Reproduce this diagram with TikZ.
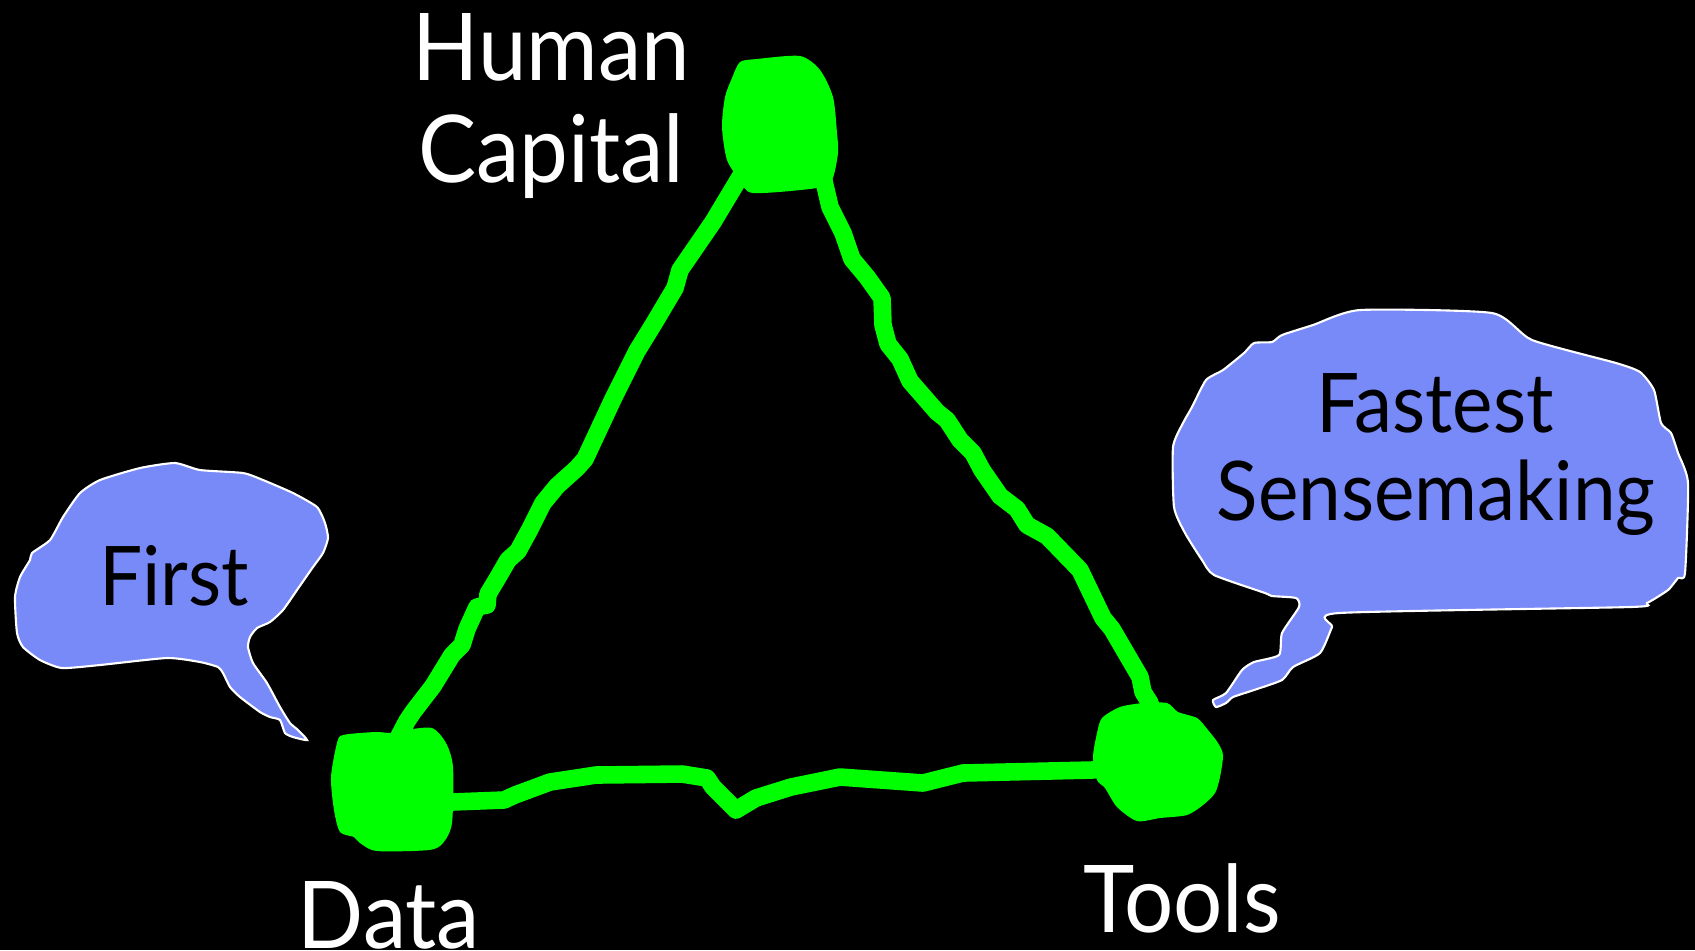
\documentclass[tikz,border=0pt]{standalone}
\usepackage{fontspec}
\setmainfont{Lato}[FakeStretch=0.93]
\definecolor{glow}{RGB}{0,255,0}
\definecolor{bubblefill}{RGB}{120,137,248}
\tikzset{
  edgeline/.style={draw=glow, line width=5pt, line join=round, line cap=round},
  blob/.style={fill=glow},
  bubble/.style={fill=bubblefill, draw=white, line width=0.6pt},
  hub/.style={inner sep=0pt, minimum size=0pt},
  biglabel/.style={text=white, anchor=base, inner sep=0pt, font=\fontsize{26.6pt}{30pt}\selectfont},
  bubbletext/.style={text=black, anchor=base, inner sep=0pt, font=\fontsize{23.4pt}{27pt}\selectfont}
}
\begin{document}
\begin{tikzpicture}[x=0.01cm, y=-0.01cm]
\fill[black] (0,0) rectangle (1695,950);
\useasboundingbox (0,0) rectangle (1695,950);

% hubs
\node[hub] (hc) at (780,124) {};
\node[hub] (data) at (392,790) {};
\node[hub] (tools) at (1160,762) {};

% connectors
\draw[edgeline] (hc.center) -- (745,172) -- (740,177) -- (713,222) -- (680,270) -- (675,288) -- (653,325) -- (637,351) -- (613,399) -- (585,459) -- (577,468) -- (557,486) -- (543,503) -- (530,529) -- (518,551) -- (508,560) -- (497,579) -- (488,594) -- (487,605) -- (477,607) -- (467,629) -- (462,645) -- (452,655) -- (433,686) -- (413,712) -- (407,721) -- (397,740) -- (data.center);
\draw[edgeline] (hc.center) -- (823,177) -- (830,207) -- (843,233) -- (852,259) -- (867,277) -- (882,298) -- (883,325) -- (888,344) -- (900,359) -- (910,381) -- (937,412) -- (947,420) -- (960,440) -- (973,453) -- (982,470) -- (1000,496) -- (1017,509) -- (1027,525) -- (1047,536) -- (1080,570) -- (1103,618) -- (1112,629) -- (1140,677) -- (1143,692) -- (1150,703) -- (tools.center);
\draw[edgeline] (data.center) -- (452,802) -- (504,800) -- (515,795) -- (550,782) -- (596,775) -- (682,774) -- (707,778) -- (713,787) -- (736,810) -- (756,798) -- (791,787) -- (840,777) -- (923,783) -- (963,773) -- (1092,770) -- (tools.center);

% blobs
\fill[blob] plot[smooth cycle, tension=0.45] coordinates {(740,62) (757,59) (800,56) (820,70) (833,97) (837,133) (838,153) (832,180) (817,188) (753,193) (740,180) (727,160) (722,127) (725,97) (732,78)};
\fill[blob] plot[smooth cycle, tension=0.45] coordinates {(343,735) (375,732) (392,733) (406,730) (432,728) (446,743) (453,767) (452,823) (443,843) (429,850) (377,851) (360,843) (354,837) (340,832) (334,810) (331,777) (337,743)};
\fill[blob] plot[smooth cycle, tension=0.45] coordinates {(1102,718) (1120,707) (1143,703) (1167,703) (1178,712) (1197,718) (1208,730) (1218,743) (1223,755) (1220,777) (1215,793) (1203,805) (1187,815) (1160,818) (1137,821) (1117,807) (1105,788) (1097,780) (1093,757) (1097,733)};

% bubbles
\draw[bubble] plot[smooth cycle, tension=0.35] coordinates {(175,463) (200,470) (243,473) (263,480) (293,493) (317,507) (325,523) (328,538) (323,553) (313,567) (297,590) (283,610) (270,622) (257,628) (250,637) (248,647) (253,663) (267,683) (280,707) (290,723) (298,730) (307,740) (293,737) (285,733) (280,720) (270,717) (260,712) (240,697) (230,687) (223,673) (218,667) (200,662) (167,658) (100,665) (62,668) (40,660) (23,647) (17,633) (15,597) (20,577) (30,560) (32,553) (50,540) (63,517) (80,493) (100,480) (140,468)};
\draw[bubble] plot[smooth cycle, tension=0.35] coordinates {(1360,310) (1492,313) (1532,340) (1616,363) (1640,372) (1654,390) (1661,423) (1671,433) (1678,453) (1688,483) (1685,573) (1678,578) (1668,590) (1647,603) (1630,607) (1339,613) (1332,627) (1320,653) (1293,667) (1282,680) (1254,690) (1233,697) (1226,703) (1216,707) (1213,700) (1226,693) (1242,670) (1254,662) (1279,655) (1282,633) (1299,607) (1296,598) (1272,596) (1265,593) (1214,575) (1202,560) (1185,533) (1174,507) (1173,447) (1183,423) (1192,407) (1206,380) (1223,370) (1244,353) (1254,343) (1272,342) (1282,335) (1313,325)};

% labels
\node[biglabel] (hclabel1) at (551,80) {Human};
\node[biglabel] (hclabel2) at (551,182) {Capital};
\node[biglabel] (datalabel) at (389,948) {Data};
\node[biglabel] (toolslabel) at (1182,932) {Tools};
\node[bubbletext] (firsttext) at (174,605) {First};
\node[bubbletext] (fasttext1) at (1435,432) {Fastest};
\node[bubbletext] (fasttext2) at (1436,520) {Sensemaking};
\end{tikzpicture}
\end{document}
